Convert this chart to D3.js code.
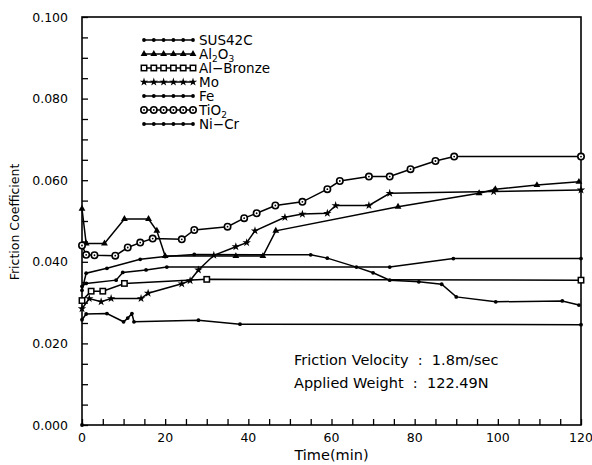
<!DOCTYPE html>
<html><head><meta charset="utf-8">
<script src="https://cdn.jsdelivr.net/npm/d3@7"></script>
<style>body{margin:0;background:#fff}text{font-family:"DejaVu Sans",sans-serif;fill:#000}</style>
</head><body><svg id="c" width="592" height="465"></svg>
<script>
const seriesNames = ["SUS42C","Al2O3","Al-Bronze","Mo","Fe","TiO2","Ni-Cr"];
const xTicks = [0,20,40,60,80,100,120];
const yTicks = [0,0.02,0.04,0.06,0.08,0.1];
const sus42c = [[0,0.0258],[1,0.0272],[6,0.0273],[10,0.0253],[11,0.0262],[12,0.0273],[12.5,0.0253],[28,0.0257],[38,0.0247],[120,0.0246]];
const al2o3 = [[0,0.053],[1,0.0445],[5.4,0.0445],[10.2,0.0505],[16,0.0505],[18,0.0476],[20,0.0414],[37,0.0414],[43.5,0.0414],[46.6,0.0476],[76,0.0535],[95.5,0.0568],[99.4,0.0578],[109.4,0.0588],[119.5,0.0596]];
const alBronze = [[0,0.0305],[2.2,0.0328],[5,0.0328],[10.2,0.0347],[30,0.0357],[120,0.0355]];
const mo = [[0,0.0285],[1.75,0.031],[4.6,0.0302],[7,0.031],[14.2,0.031],[15.9,0.0323],[24,0.0346],[26,0.0354],[28,0.038],[31.7,0.0416],[37,0.0437],[39.6,0.0447],[41.6,0.0476],[48.8,0.0509],[53,0.0517],[59,0.0519],[61,0.0538],[69,0.0538],[74,0.0568],[99,0.0572],[120,0.0576]];
const fe = [[0,0.034],[1,0.0347],[8.2,0.0355],[9.8,0.0374],[15.4,0.038],[20.4,0.0387],[74,0.0387],[89.3,0.0408],[120,0.0408]];
const tio2 = [[0,0.044],[1,0.0417],[3,0.0416],[8,0.0415],[11,0.0435],[14,0.0447],[17,0.0457],[24,0.0455],[27,0.0478],[35,0.0486],[39,0.0507],[42,0.0519],[46.5,0.0538],[53,0.0547],[59,0.0578],[62,0.0598],[69,0.0609],[74,0.0609],[79,0.0627],[85,0.0647],[89.5,0.0658],[120,0.0658]];
const niCr = [[0,0.033],[1,0.0372],[6,0.0384],[14,0.0406],[20,0.0413],[27,0.0418],[55,0.0417],[59,0.0409],[66,0.0387],[70,0.0373],[74,0.0355],[81,0.0351],[86.5,0.0345],[90,0.0314],[99.5,0.0302],[115.5,0.0304],[119.5,0.0294]];
const originPoint = [[0,0]];
const annotations = ["Friction Velocity  :  1.8m/sec","Applied Weight  :  122.49N"];

const svg = d3.select("#c");
const x = d3.scaleLinear([0,120],[82,581]);
const y = d3.scaleLinear([0,0.1],[425,17]);

svg.append("rect").attr("x",x(0)).attr("y",y(0.1)).attr("width",x(120)-x(0)).attr("height",y(0)-y(0.1))
  .attr("fill","none").attr("stroke","#000").attr("stroke-width",1.6);

const ya = svg.append("g").attr("transform",`translate(${x(0)},0)`)
  .call(d3.axisRight(y).tickValues(d3.range(0,0.1001,0.005)).tickSize(6).tickFormat(""));
ya.select(".domain").remove();
ya.selectAll("line").attr("stroke-width",1.3);
svg.append("g").selectAll("text").data(yTicks).join("text")
  .attr("x",68).attr("y",d=>y(d)+4.5).attr("text-anchor","end").attr("font-size",12.5).text(d=>d3.format(".3f")(d));

const xa = svg.append("g").attr("transform",`translate(0,${y(0)})`)
  .call(d3.axisTop(x).tickValues(d3.range(0,121,5)).tickSize(6).tickFormat(""));
xa.select(".domain").remove();
xa.selectAll("line").attr("stroke-width",1.3);
svg.append("g").selectAll("text").data(xTicks).join("text")
  .attr("x",d=>x(d)).attr("y",442).attr("text-anchor","middle").attr("font-size",12.5).text(d=>d);

svg.append("text").attr("x",x(60)).attr("y",460).attr("text-anchor","middle").attr("font-size",14.5).text("Time(min)");
svg.append("text").attr("transform","translate(19,222) rotate(-90)").attr("text-anchor","middle").attr("font-size",12.5).text("Friction Coefficient");

const data = [sus42c, al2o3, alBronze, mo, fe, tio2, niCr];
const markerType = ["dot","tri","square","star","dot","circle","dot"];
const line = d3.line().x(d=>x(d[0])).y(d=>y(d[1]));

function drawMarker(g, type, px, py){
  if(type==="dot") g.append("circle").attr("cx",px).attr("cy",py).attr("r",1.9).attr("fill","#000");
  else if(type==="tri") g.append("path").attr("d",d3.symbol(d3.symbolTriangle,20)()).attr("transform",`translate(${px},${py})`).attr("fill","#000");
  else if(type==="star") g.append("path").attr("d",d3.symbol(d3.symbolStar,22)()).attr("transform",`translate(${px},${py})`).attr("fill","#000");
  else if(type==="square") g.append("rect").attr("x",px-2.7).attr("y",py-2.7).attr("width",5.4).attr("height",5.4).attr("fill","#fff").attr("stroke","#000").attr("stroke-width",1.5);
  else if(type==="circle"){ g.append("circle").attr("cx",px).attr("cy",py).attr("r",3.2).attr("fill","#fff").attr("stroke","#000").attr("stroke-width",1.6);
    g.append("circle").attr("cx",px).attr("cy",py).attr("r",0.9).attr("fill","#000"); }
}

const plot = svg.append("g");
data.forEach(s=>{
  plot.append("path").datum(s).attr("d",line).attr("fill","none").attr("stroke","#000").attr("stroke-width",1.5);
});
data.forEach((s,i)=>{
  const g = plot.append("g");
  s.forEach(d=>drawMarker(g, markerType[i], x(d[0]), y(d[1])));
});
originPoint.forEach(d=>drawMarker(plot,"dot",x(d[0]),y(d[1])));

const legRowY = d3.scaleLinear([0,6],[40,124]);
const legX0 = 144, legX1 = 193;
seriesNames.forEach((n,i)=>{
  const g = svg.append("g");
  const yy = legRowY(i);
  g.append("line").attr("x1",legX0).attr("x2",legX1).attr("y1",yy).attr("y2",yy).attr("stroke","#000").attr("stroke-width",1.5);
  d3.range(6).forEach(k=>drawMarker(g, markerType[i], legX0 + k*(legX1-legX0)/5, yy));
  const t = g.append("text").attr("x",199).attr("y",yy+5).attr("font-size",13.5);
  if(n==="Al2O3"){ t.append("tspan").text("Al"); t.append("tspan").attr("dy",2.5).attr("font-size",9).text("2"); t.append("tspan").attr("dy",-2.5).text("O"); t.append("tspan").attr("dy",2.5).attr("font-size",9).text("3"); }
  else if(n==="TiO2"){ t.append("tspan").text("TiO"); t.append("tspan").attr("dy",2.5).attr("font-size",9).text("2"); }
  else t.text(n.replace("-","\u2212"));
});

annotations.forEach((a,i)=>{
  svg.append("text").attr("x",294).attr("y",365+i*23).attr("font-size",14.5).style("white-space","pre").text(a);
});
</script></body></html>
